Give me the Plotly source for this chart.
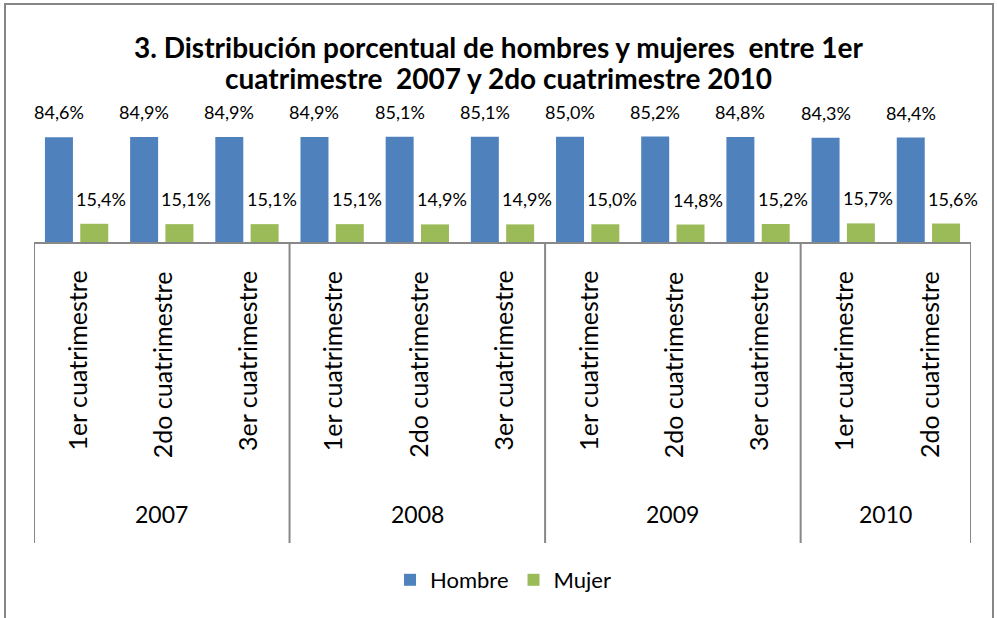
import plotly.graph_objects as go

years = ["2007", "2008", "2009", "2010"]
year_sizes = [3, 3, 3, 2]
periods = ["1er cuatrimestre", "2do cuatrimestre", "3er cuatrimestre",
           "1er cuatrimestre", "2do cuatrimestre", "3er cuatrimestre",
           "1er cuatrimestre", "2do cuatrimestre", "3er cuatrimestre",
           "1er cuatrimestre", "2do cuatrimestre"]
hombre = [84.6, 84.9, 84.9, 84.9, 85.1, 85.1, 85.0, 85.2, 84.8, 84.3, 84.4]
mujer = [15.4, 15.1, 15.1, 15.1, 14.9, 14.9, 15.0, 14.8, 15.2, 15.7, 15.6]
title_lines = ["3. Distribución porcentual de hombres y mujeres  entre 1er",
               "cuatrimestre  2007 y 2do cuatrimestre 2010"]

W, H = 997, 618
L, R, T, B = 34, 971, 100, 243  # plot area in pixels
FONT = "Lato"
BLUE, GREEN = "#4F81BD", "#9BBB59"
GRID = "#888888"
bargap, bargroupgap = 0.171, 0.207

def py(p):  # pixel y -> paper y
    return (B - p) / (B - T)

def px(p):  # pixel x -> paper x
    return (p - L) / (R - L)

def fmt(v):
    return f"{v:.1f}".replace(".", ",") + "%"

xs = list(range(len(periods)))
fig = go.Figure()
fig.add_trace(go.Bar(name="Hombre", x=xs, y=hombre, marker_color=BLUE,
                     marker_line_width=0))
fig.add_trace(go.Bar(name="Mujer", x=xs, y=mujer, marker_color=GREEN,
                     marker_line_width=0))

slot = (1 - bargap) / 2
annotations = []
for i in xs:
    annotations.append(dict(x=i - slot / 2, y=hombre[i], xref="x", yref="y",
                            text=fmt(hombre[i]), showarrow=False, yanchor="bottom",
                            yshift=12, font=dict(family=FONT, size=18, color="black")))
    annotations.append(dict(x=i + slot / 2, y=mujer[i], xref="x", yref="y",
                            text=fmt(mujer[i]), showarrow=False, yanchor="bottom",
                            yshift=12, xshift=7, font=dict(family=FONT, size=18, color="black")))
    annotations.append(dict(x=i, y=py(269), xref="x", yref="paper", text=periods[i],
                            textangle=-90, showarrow=False, yanchor="top",
                            font=dict(family=FONT, size=25, color="black")))

for k, (line, yc) in enumerate(zip(title_lines, [47, 78])):
    annotations.append(dict(x=px(498), y=py(yc), xref="paper", yref="paper",
                            text=f"<b>{line}</b>", showarrow=False,
                            xanchor="center", yanchor="middle",
                            font=dict(family=FONT, size=28, color="black")))

shapes = []
start = 0
bounds = [-0.5]
for yname, n in zip(years, year_sizes):
    center = start + (n - 1) / 2
    annotations.append(dict(x=center, y=py(514), xref="x", yref="paper", text=yname,
                            showarrow=False, yanchor="middle",
                            font=dict(family=FONT, size=23, color="black")))
    start += n
    bounds.append(start - 0.5)
for b in bounds:
    shapes.append(dict(type="line", xref="x", yref="paper", x0=b, x1=b,
                       y0=0, y1=py(543), line=dict(color=GRID, width=2)))
shapes.append(dict(type="line", xref="paper", yref="paper", x0=0, x1=1, y0=0, y1=0,
                   line=dict(color=GRID, width=2)))
# chart border
shapes.append(dict(type="rect", xref="paper", yref="paper",
                   x0=px(5), x1=px(993), y0=py(620), y1=py(4),
                   line=dict(color="#868686", width=2)))

fig.update_layout(
    width=W, height=H,
    margin=dict(l=L, r=W - R, t=T, b=H - B, pad=0),
    paper_bgcolor="white", plot_bgcolor="white",
    barmode="group", bargap=bargap, bargroupgap=bargroupgap,
    xaxis=dict(range=[-0.5, len(periods) - 0.5], showticklabels=False, showgrid=False,
               zeroline=False, showline=False, ticks=""),
    yaxis=dict(range=[0, 114.5], visible=False),
    showlegend=True,
    legend=dict(orientation="h", x=px(503), xanchor="center", xref="paper",
                y=1 - 580 / H, yanchor="middle", yref="container",
                font=dict(family=FONT, size=22, color="black"),
                traceorder="normal"),
    annotations=annotations, shapes=shapes,
)
fig.write_html("out.html", config={"displayModeBar": False},
               post_script="document.body.style.margin='0';document.body.style.overflow='hidden';")
